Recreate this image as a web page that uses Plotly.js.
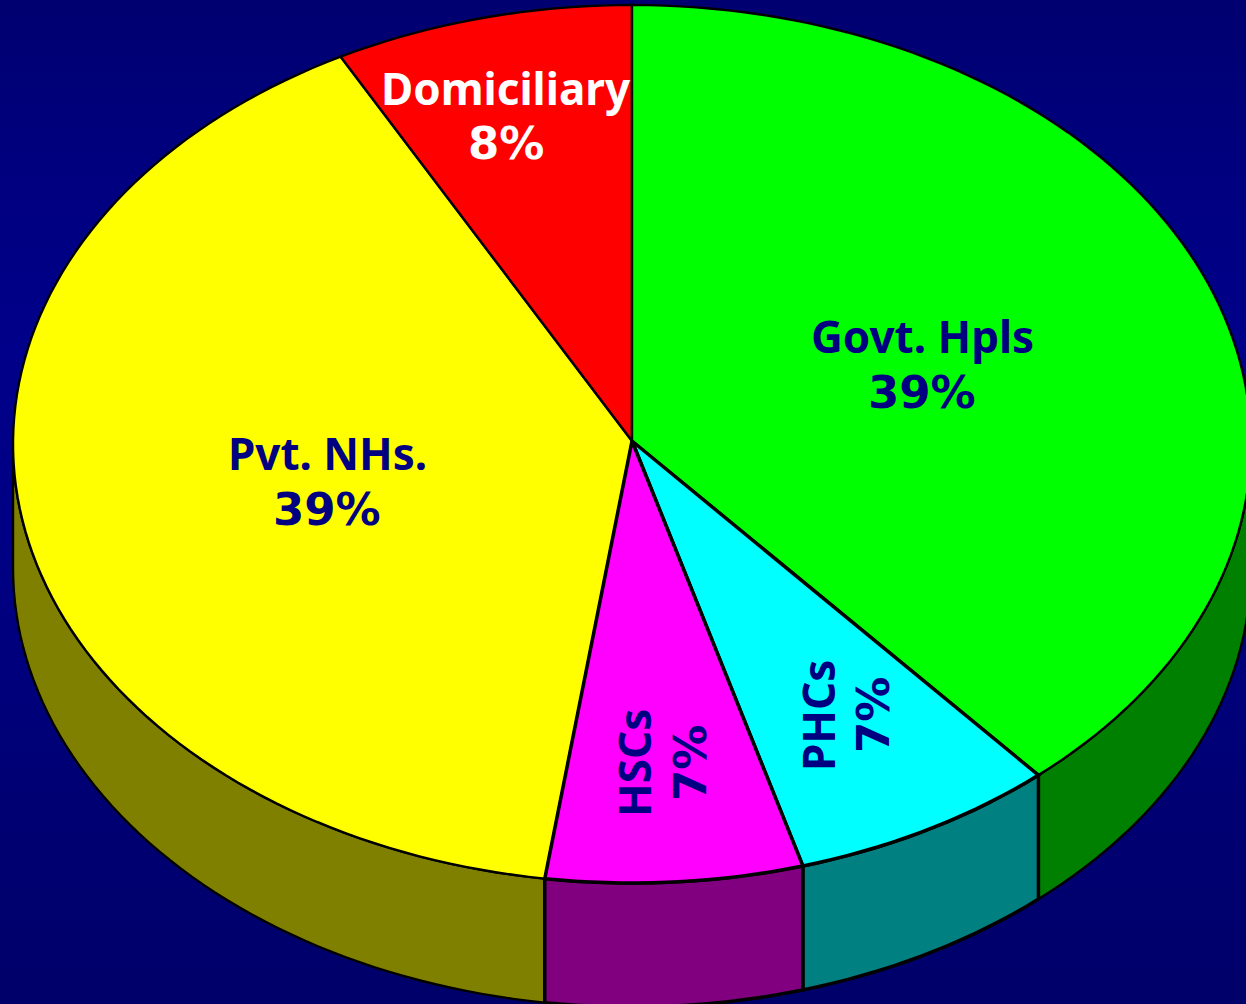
<!DOCTYPE html>
<html>
<head>
<meta charset="utf-8">
<script src="https://cdn.plot.ly/plotly-3.0.1.min.js"></script>
<style>
html,body{margin:0;padding:0;width:1246px;height:1004px;overflow:hidden;
background:linear-gradient(180deg,#000070 0%,#000080 18%,#00008a 35%,#000084 55%,#000074 78%,#00006a 100%);}
#chart{width:1246px;height:1004px;}
</style>
</head>
<body>
<div id="chart"></div>
<script>
// Slices clockwise from 12 o'clock
const categories = ['Govt. Hpls', 'PHCs', 'HSCs', 'Pvt. NHs.', 'Domiciliary'];
const shares     = [38.6, 6.95, 6.7, 39.95, 7.8];
const shareLabels = ['39%', '7%', '7%', '39%', '8%'];
const topColors  = ['#00ff00', '#00ffff', '#ff00ff', '#ffff00', '#ff0000'];
const sideColors = ['#008000', '#008080', '#800080', '#808000', '#800000'];
const textColors = ['#000080', '#000080', '#000080', '#000080', '#ffffff'];
const outlineWidths = [2.4, 3.5, 3.5, 2.4, 2.4];
const nameX = [922, 818, 634, 327, 506];
const nameY = [336, 716, 763, 453, 88];
const pctX  = [922, 873, 690, 327, 506];
const pctY  = [392, 715, 763, 509, 143];
const labelAngle = [0, -90, -90, 0, 0];

// Projected disc geometry, in axis units (= pixels)
const cx = 632, cy = 444, rx = 619, ry = 439, apexY = 441, depth = 124;
const rad = d => d * Math.PI / 180;
const px = a => cx + rx * Math.sin(rad(a));
const py = a => cy - ry * Math.cos(rad(a));
function arc(a0, a1) {
  const n = Math.max(2, Math.ceil(Math.abs(a1 - a0) / 1.5));
  const out = [];
  for (let i = 0; i <= n; i++) out.push(a0 + (a1 - a0) * i / n);
  return out;
}

let acc = 0;
const spans = shares.map(s => {
  const a0 = acc * 3.6; acc += s;
  return [a0, acc * 3.6];
});

const drawOrder = [3, 4, 0, 1, 2];
const traces = [];
// Side wall: only the part of the rim facing the viewer (90°..270°)
drawOrder.forEach(i => {
  const [a0, a1] = spans[i];
  const s = Math.max(a0, 90), e = Math.min(a1, 270);
  if (e <= s) return;
  const as = arc(s, e);
  const xs = as.map(px).concat(as.slice().reverse().map(px));
  const ys = as.map(py).concat(as.slice().reverse().map(a => py(a) + depth));
  xs.push(xs[0]); ys.push(ys[0]);
  traces.push({x: xs, y: ys, mode: 'lines', fill: 'toself', fillcolor: sideColors[i],
    line: {color: '#000', width: outlineWidths[i], simplify: false}, hoverinfo: 'skip', showlegend: false, name: categories[i] + ' side'});
});
// Top faces: thin outlines first so the thicker ones stay on top
drawOrder.forEach(i => {
  const as = arc(spans[i][0], spans[i][1]);
  const xs = [cx].concat(as.map(px), [cx]);
  const ys = [apexY].concat(as.map(py), [apexY]);
  traces.push({x: xs, y: ys, mode: 'lines', fill: 'toself', fillcolor: topColors[i],
    line: {color: '#000', width: outlineWidths[i], simplify: false}, hoverinfo: 'skip', showlegend: false, name: categories[i]});
});

const note = (x, y, text, i, family, size) => ({
  x, y, xref: 'x', yref: 'y', text, showarrow: false,
  xanchor: 'center', yanchor: 'middle', align: 'center', textangle: labelAngle[i],
  font: {family, size, weight: 700, color: textColors[i]}
});
const annotations = categories.map((c, i) => note(nameX[i], nameY[i], c, i, '"Noto Sans", sans-serif', 44))
  .concat(shareLabels.map((p, i) => note(pctX[i], pctY[i], p, i, '"DejaVu Sans", sans-serif', 45)));

const axis = {visible: false, showgrid: false, zeroline: false, fixedrange: true};
Plotly.newPlot('chart', traces, {
  width: 1246, height: 1004,
  margin: {l: 0, r: 0, t: 0, b: 0},
  paper_bgcolor: 'rgba(0,0,0,0)', plot_bgcolor: 'rgba(0,0,0,0)',
  xaxis: Object.assign({range: [0, 1246]}, axis),
  yaxis: Object.assign({range: [1004, 0]}, axis),
  annotations, showlegend: false
}, {displayModeBar: false, staticPlot: true});
</script>
</body>
</html>
